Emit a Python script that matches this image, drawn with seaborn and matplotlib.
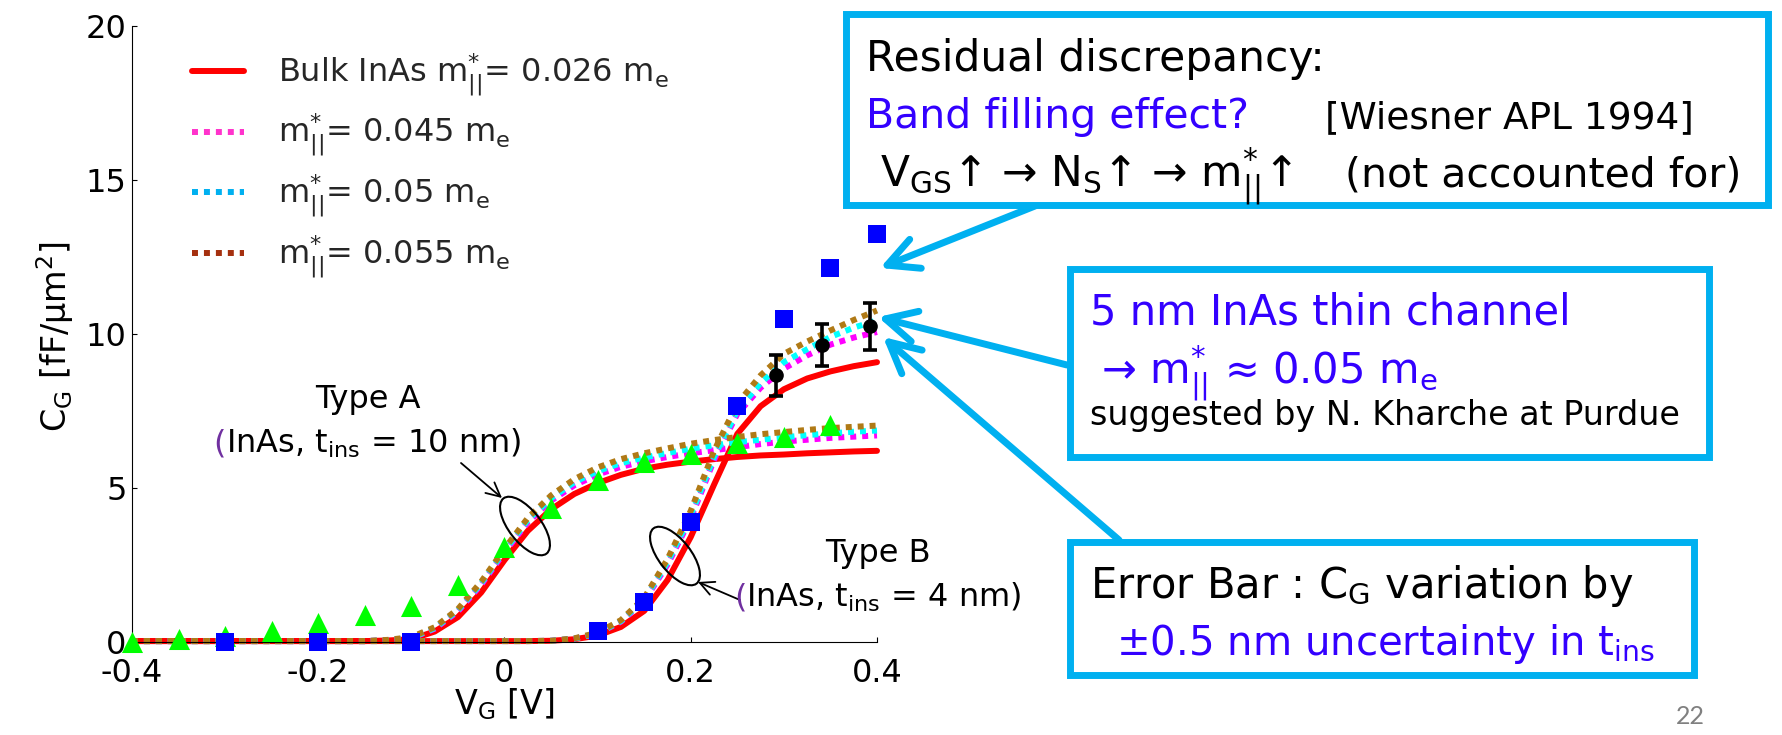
import matplotlib.pyplot as plt
import matplotlib.transforms as mtransforms
from matplotlib.patches import Ellipse, Rectangle, FancyArrowPatch
from matplotlib.lines import Line2D
import seaborn as sns

# ---------------- data ----------------
VG_SIM = [-0.400, -0.375, -0.350, -0.325, -0.300, -0.275, -0.250, -0.225,
          -0.200, -0.175, -0.150, -0.125, -0.100, -0.075, -0.050, -0.025,
          0.000, 0.025, 0.050, 0.075, 0.100, 0.125, 0.150, 0.175,
          0.200, 0.225, 0.250, 0.275, 0.300, 0.325, 0.350, 0.375, 0.400]

# Type A (t_ins = 10 nm) simulations
CG_A_BULK = [0.02, 0.02, 0.02, 0.02, 0.02, 0.02, 0.02, 0.02, 0.02, 0.02, 0.02,
             0.04, 0.08, 0.33, 0.80, 1.60, 2.65, 3.60, 4.30, 4.80, 5.15, 5.42,
             5.62, 5.75, 5.85, 5.93, 6.00, 6.05, 6.08, 6.12, 6.15, 6.18, 6.20]
CG_A_045 = [0.02, 0.02, 0.02, 0.02, 0.02, 0.02, 0.02, 0.02, 0.02, 0.02, 0.02,
            0.05, 0.12, 0.42, 0.98, 1.85, 2.90, 3.88, 4.58, 5.08, 5.43, 5.68,
            5.86, 6.00, 6.12, 6.22, 6.32, 6.42, 6.50, 6.56, 6.62, 6.66, 6.70]
CG_A_050 = [0.02, 0.02, 0.02, 0.02, 0.02, 0.02, 0.02, 0.02, 0.02, 0.02, 0.02,
            0.05, 0.13, 0.44, 1.02, 1.90, 2.96, 3.95, 4.66, 5.18, 5.54, 5.80,
            5.98, 6.13, 6.27, 6.38, 6.48, 6.56, 6.64, 6.71, 6.77, 6.82, 6.86]
CG_A_055 = [0.02, 0.02, 0.02, 0.02, 0.02, 0.02, 0.02, 0.02, 0.02, 0.02, 0.02,
            0.06, 0.15, 0.47, 1.06, 1.95, 3.02, 4.02, 4.75, 5.28, 5.66, 5.93,
            6.12, 6.28, 6.43, 6.55, 6.65, 6.74, 6.81, 6.88, 6.94, 6.98, 7.02]

# Type B (t_ins = 4 nm) simulations
CG_B_BULK = [0.02, 0.02, 0.02, 0.02, 0.02, 0.02, 0.02, 0.02, 0.02, 0.02, 0.02,
             0.02, 0.02, 0.02, 0.02, 0.02, 0.02, 0.02, 0.03, 0.08, 0.20, 0.48,
             1.00, 2.00, 3.40, 5.10, 6.75, 7.65, 8.20, 8.55, 8.78, 8.95, 9.08]
CG_B_045 = [0.02, 0.02, 0.02, 0.02, 0.02, 0.02, 0.02, 0.02, 0.02, 0.02, 0.02,
            0.02, 0.02, 0.02, 0.02, 0.02, 0.02, 0.02, 0.03, 0.10, 0.26, 0.65,
            1.32, 2.50, 4.00, 5.90, 7.40, 8.25, 8.87, 9.30, 9.65, 9.88, 10.06]
CG_B_050 = [0.02, 0.02, 0.02, 0.02, 0.02, 0.02, 0.02, 0.02, 0.02, 0.02, 0.02,
            0.02, 0.02, 0.02, 0.02, 0.02, 0.02, 0.02, 0.03, 0.10, 0.27, 0.67,
            1.36, 2.58, 4.10, 6.00, 7.50, 8.40, 9.08, 9.50, 9.90, 10.20, 10.44]
CG_B_055 = [0.02, 0.02, 0.02, 0.02, 0.02, 0.02, 0.02, 0.02, 0.02, 0.02, 0.02,
            0.02, 0.02, 0.02, 0.02, 0.02, 0.02, 0.02, 0.03, 0.11, 0.29, 0.70,
            1.42, 2.68, 4.25, 6.20, 7.73, 8.65, 9.35, 9.75, 10.11, 10.45, 10.76]

# measured
VG_A_MEAS = [-0.40, -0.35, -0.30, -0.25, -0.20, -0.15, -0.10, -0.05,
             0.00, 0.05, 0.10, 0.15, 0.20, 0.25, 0.30, 0.35]
CG_A_MEAS = [0.00, 0.08, 0.20, 0.36, 0.61, 0.87, 1.15, 1.84,
             3.08, 4.33, 5.25, 5.85, 6.10, 6.45, 6.64, 7.05]
VG_B_MEAS = [-0.30, -0.20, -0.10, 0.10, 0.15, 0.20, 0.25, 0.30, 0.35, 0.40]
CG_B_MEAS = [0.00, 0.00, 0.00, 0.34, 1.30, 3.88, 7.67, 10.49, 12.15, 13.23]

# error-bar points (5 nm channel, m = 0.05 me)
VG_ERR = [0.292, 0.341, 0.393]
CG_ERR = [8.65, 9.65, 10.25]
CG_ERR_BAR = [0.67, 0.68, 0.76]

LEGEND_LABELS = [r"Bulk InAs m$_{||}^{*}$= 0.026 m$_e$",
                 r"m$_{||}^{*}$= 0.045 m$_e$",
                 r"m$_{||}^{*}$= 0.05 m$_e$",
                 r"m$_{||}^{*}$= 0.055 m$_e$"]

# ---------------- style ----------------
RED = "#ff0000"
MAG = "#ff00ff"
CYN = "#00ffff"
BRN = "#b07a16"
LEG_COLORS = ["#ff0000", "#ff33cc", "#00b0f0", "#a5300f"]
BOX = "#00b0f0"
BLUE_TXT = "#3300ff"
PURPLE = "#7030a0"

sns.set_theme(style="ticks")
plt.rcParams["font.family"] = ["DejaVu Sans"]
plt.rcParams["mathtext.fontset"] = "dejavusans"
plt.rcParams["mathtext.default"] = "regular"
plt.rcParams["axes.unicode_minus"] = False

W, H = 1783, 735
fig = plt.figure(figsize=(W / 100, H / 100), dpi=100)
fig.patch.set_facecolor("white")
# transform: pixel coords with origin at top-left of the slide
PX = mtransforms.Affine2D().scale(1 / W, -1 / H).translate(0, 1) + fig.transFigure

ax = fig.add_axes([132 / W, 1 - 641.7 / H, 745 / W, 615.7 / H])
ax.set_facecolor("white")

# ---------------- curves ----------------
for cg in (CG_A_BULK, CG_B_BULK):
    sns.lineplot(x=VG_SIM, y=cg, color=RED, lw=4.3, ax=ax,
                 estimator=None, sort=False, zorder=2)
for cg, col in [(CG_A_045, MAG), (CG_B_045, MAG), (CG_A_050, CYN),
                (CG_B_050, CYN), (CG_A_055, BRN), (CG_B_055, BRN)]:
    sns.lineplot(x=VG_SIM, y=cg, color=col, lw=4.3, ax=ax, linestyle=(0, (1.0, 1.0)),
                 estimator=None, sort=False, zorder=2)
for ln in ax.lines:
    ln.set_dash_capstyle("butt")

sns.scatterplot(x=VG_A_MEAS, y=CG_A_MEAS, marker="^", s=230, color="#00ff00",
                linewidth=0, ax=ax, zorder=4)
sns.scatterplot(x=VG_B_MEAS, y=CG_B_MEAS, marker="s", s=150, color="#0000ff",
                linewidth=0, ax=ax, zorder=4)
ax.errorbar(VG_ERR, CG_ERR, yerr=CG_ERR_BAR, fmt="o", color="black", ms=9.5,
            elinewidth=2.6, capsize=5, capthick=2.6, zorder=5)

for art in ax.lines + ax.collections:
    art.set_clip_on(False)

# ---------------- axes ----------------
ax.set_xlim(-0.4, 0.4)
ax.set_ylim(0, 20)
ax.set_xticks([-0.4, -0.2, 0, 0.2, 0.4])
ax.set_xticklabels(["-0.4", "-0.2", "0", "0.2", "0.4"])
ax.set_yticks([0, 5, 10, 15, 20])
ax.tick_params(direction="in", length=3.5, width=0.8, labelsize=23, colors="black")
ax.tick_params(axis="x", pad=12)
ax.tick_params(axis="y", pad=4)
sns.despine(ax=ax)
for sp in ("left", "bottom"):
    ax.spines[sp].set_color("black")
    ax.spines[sp].set_linewidth(0.8)
ax.grid(False)
ax.set_xlabel(r"V$_G$ [V]", fontsize=24, color="black")
ax.set_ylabel(r"C$_G$ [fF/$\mu$m$^2$]", fontsize=24, color="black")
ax.xaxis.set_label_coords(0.5, -0.072)
ax.yaxis.set_label_coords(-0.0755, 0.495)

handles = [Line2D([], [], color=LEG_COLORS[0], lw=4.3)]
for c in LEG_COLORS[1:]:
    handles.append(Line2D([], [], color=c, lw=4.3, linestyle=(0, (1.0, 1.0)),
                          dash_capstyle="butt"))
ax.legend(handles, LEGEND_LABELS, loc="upper left", bbox_to_anchor=(0.0805, 0.958),
          frameon=False, fontsize=23, handlelength=1.63, handletextpad=1.06,
          labelspacing=0.42, borderpad=0, borderaxespad=0)

# ---------------- Type A / Type B annotations ----------------
def ptext(x, y, s, size, color="black", **kw):
    return fig.text(x, y, s, transform=PX, fontsize=size, color=color,
                    va="baseline", zorder=6, **kw)

ptext(368, 408, "Type A", 23, ha="center")
ptext(878, 562, "Type B", 23, ha="center")
lab_a = ptext(374, 453, r"InAs, t$_{ins}$ = 10 nm)", 23, ha="center")
lab_b = ptext(884, 607, r"InAs, t$_{ins}$ = 4 nm)", 23, ha="center")
renderer = fig.canvas.get_renderer()
for lab, yb in ((lab_a, 453), (lab_b, 607)):
    bb = lab.get_window_extent(renderer)
    ptext(bb.x0, yb, "(", 23, color=PURPLE, ha="right")

for cx, cy in ((525, 526), (675, 556)):
    fig.add_artist(Ellipse((cx, cy), 70, 32, angle=52, transform=PX, fill=False,
                           edgecolor="black", lw=1.5, zorder=3))
for (x0, y0), (x1, y1) in (((461, 463), (502, 498)), ((740, 600), (698, 582))):
    fig.add_artist(FancyArrowPatch((x0, y0), (x1, y1), transform=PX,
                                   arrowstyle="->,head_length=0.5,head_width=0.25",
                                   mutation_scale=20, lw=1.3, color="black",
                                   shrinkA=0, shrinkB=0, zorder=3))

# ---------------- callout arrows and boxes ----------------
for (x0, y0), (x1, y1) in (((1035, 206), (880, 268)),
                           ((1067, 365), (878, 317)),
                           ((1119, 540), (883, 337))):
    fig.add_artist(FancyArrowPatch((x0, y0), (x1, y1), transform=PX,
                                   arrowstyle="->,head_length=0.55,head_width=0.28",
                                   mutation_scale=40, lw=5, color=BOX,
                                   capstyle="round", joinstyle="round",
                                   shrinkA=0, shrinkB=0, zorder=4))

for x0, y0, x1, y1 in ((846, 14, 1768, 205), (1070, 269, 1709, 457),
                       (1070, 542, 1694, 675)):
    fig.add_artist(Rectangle((x0, y0), x1 - x0, y1 - y0, transform=PX,
                             facecolor="white", edgecolor=BOX, lw=5, zorder=5))

ptext(866, 71, "Residual discrepancy:", 30.5)
ptext(866, 128, "Band filling effect?", 29.5, color=BLUE_TXT)
ptext(1325, 128, "[Wiesner APL 1994]", 27)
ptext(880, 187, r"V$_{GS}$↑ → N$_{S}$↑ → m$_{||}^{*}$↑", 30.5)
ptext(1345, 187, "(not accounted for)", 29.5)

ptext(1090, 325, "5 nm InAs thin channel", 30, color=BLUE_TXT)
ptext(1101, 383, r"→ m$_{||}^{*}$ ≈ 0.05 m$_e$", 30, color=BLUE_TXT)
ptext(1090, 425, "suggested by N. Kharche at Purdue", 24)

ptext(1090, 598, r"Error Bar : C$_G$ variation by", 30)
ptext(1116, 655, r"±0.5 nm uncertainty in t$_{ins}$", 29, color=BLUE_TXT)

fig.text(1690, 717, "22", transform=PX, fontsize=18, color="#808080",
         ha="center", va="center", family=["Lato", "DejaVu Sans"])

fig.savefig("out.png", dpi=100, facecolor="white")
